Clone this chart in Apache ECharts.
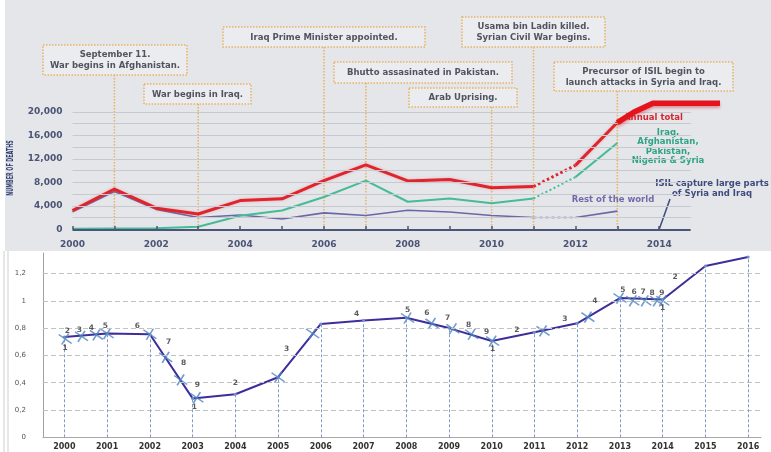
<!DOCTYPE html>
<html>
<head>
<meta charset="utf-8">
<title>Deaths from terrorism / index</title>
<script src="https://cdn.jsdelivr.net/npm/echarts@6/dist/echarts.min.js"></script>
<style>
  html, body { margin: 0; padding: 0; background: #fff; }
  #chart { width: 771px; height: 452px; }
</style>
</head>
<body>
<div id="chart"></div>
<script>
// ---- top chart: number of deaths ----
const years = [2000, 2001, 2002, 2003, 2004, 2005, 2006, 2007, 2008, 2009, 2010, 2011, 2012, 2013]
const annualTotal = [3200, 6850, 3600, 2600, 4900, 5200, 8300, 11000, 8250, 8500, 7100, 7300, 10900, 18200]
const iraqGroup = [100, 150, 200, 450, 2300, 3200, 5500, 8300, 4700, 5250, 4450, 5250, 8900, 14700]
const restOfWorld = [3000, 6450, 3400, 2000, 2450, 1750, 2800, 2350, 3250, 2950, 2350, 2000, 2000, 3100]
// thick red stroke after 2013
const projYears = [2013, 2013.4, 2013.85, 2015.45]
const projTotal = [18200, 20000, 21500, 21500]
const dottedFrom = 11 // 2011 -> 2012 drawn dotted

const axisYears = [2000, 2001, 2002, 2003, 2004, 2005, 2006, 2007, 2008, 2009, 2010, 2011, 2012, 2013, 2014]
const axisEnd = 2014.75
const deathTicks = [2000, 4000, 6000, 8000, 10000, 12000, 14000, 16000, 18000, 20000]

const eventYears = [2001, 2003, 2006, 2007, 2010, 2011, 2013]
const eventTexts = [
  'September 11.\nWar begins in Afghanistan.',
  'War begins in Iraq.',
  'Iraq Prime Minister appointed.',
  'Bhutto assasinated in Pakistan.',
  'Arab Uprising.',
  'Usama bin Ladin killed.\nSyrian Civil War begins.',
  'Precursor of ISIL begin to\nlaunch attacks in Syria and Iraq.'
]
const isilYear = 2014

// ---- bottom chart ----
const idxYears = [2000, 2001, 2002, 2003, 2004, 2005, 2006, 2007, 2008, 2009, 2010, 2011, 2012, 2013, 2014, 2015, 2016]
const idxValues = [0.735, 0.76, 0.755, 0.285, 0.315, 0.44, 0.83, 0.855, 0.875, 0.8, 0.705, 0.77, 0.835, 1.02, 1.01, 1.255, 1.32]
const idxTicks = [0.2, 0.4, 0.6, 0.8, 1, 1.2]

// wave count markers on the line
const crossYears = [2000.02, 2000.4, 2000.75, 2001, 2002, 2002.37, 2002.72, 2003.1, 2005, 2005.81, 2008.03, 2008.6, 2009.09, 2009.53, 2010.02, 2011.2, 2012.25, 2013, 2013.3, 2013.58, 2013.86, 2014]
const crossValues = [0.72, 0.74, 0.75, 0.76, 0.755, 0.585, 0.42, 0.29, 0.44, 0.76, 0.874, 0.835, 0.795, 0.755, 0.705, 0.78, 0.88, 1.02, 1.0, 1.0, 1.0, 1.0]
const waveYears = [2000.02, 2000.07, 2000.35, 2000.63, 2000.96, 2001.71, 2002.44, 2002.79, 2003.11, 2003.04, 2004, 2005.2, 2006.84, 2008.03, 2008.48, 2008.97, 2009.46, 2009.88, 2010.02, 2010.59, 2011.71, 2012.41, 2013.07, 2013.33, 2013.54, 2013.75, 2013.98, 2014, 2014.29]
const waveValues = [0.655, 0.78, 0.786, 0.8, 0.815, 0.815, 0.7, 0.545, 0.385, 0.222, 0.4, 0.65, 0.905, 0.935, 0.91, 0.87, 0.823, 0.772, 0.648, 0.786, 0.867, 0.999, 1.08, 1.065, 1.065, 1.057, 1.057, 0.948, 1.175]
const waveTexts = ['1', '2', '3', '4', '5', '6', '7', '8', '9', '1', '2', '3', '4', '5', '6', '7', '8', '9', '1', '2', '3', '4', '5', '6', '7', '8', '9', '1', '2']

// layout of the note boxes [x, y, w, h], same order as eventYears
const boxes = [
  [43, 45, 144, 30],
  [144, 84, 107, 20],
  [223, 27, 202, 20],
  [334, 62, 178, 21],
  [409, 88, 108, 19],
  [462, 17, 143, 30],
  [554, 62, 179, 29]
]

const FONT = '"DejaVu Sans"'
const ORANGE = '#e9b263'
const NAVY = '#4b5579'

function pairs (xs, ys, from, to) {
  return xs.slice(from, to + 1).map((x, i) => [x, ys[from + i]])
}

function topLine (data, color, width, type, z, extra) {
  return Object.assign({
    type: 'line',
    xAxisIndex: 0,
    yAxisIndex: 0,
    data: data,
    symbol: 'none',
    silent: true,
    z: z,
    lineStyle: { color: color, width: width, type: type }
  }, extra || {})
}

const last = years.length - 1
const redGlow = { shadowBlur: 3, shadowColor: 'rgba(230,50,60,0.3)' }

const chart = echarts.init(document.getElementById('chart'))
chart.setOption({
  animation: false,
  backgroundColor: '#ffffff',
  grid: [
    { left: 72.5, right: 51, top: 112, bottom: 222.7, outerBoundsMode: 'none' },
    { left: 43, right: 10, top: 253, bottom: 14.7, outerBoundsMode: 'none' }
  ],
  xAxis: [
    {
      gridIndex: 0,
      type: 'value',
      min: 2000,
      max: 2015.45,
      interval: 1,
      splitLine: { show: false },
      axisLine: { show: false },
      axisTick: { show: false },
      axisLabel: {
        margin: 11,
        color: '#4b5474',
        fontFamily: FONT,
        fontWeight: 'bold',
        fontSize: 9,
        formatter: v => (v % 2 === 0 && v <= 2014 ? String(v) : '')
      }
    },
    {
      gridIndex: 1,
      type: 'value',
      min: 1999.5,
      max: 2016.3,
      splitNumber: 17,
      splitLine: { show: false },
      axisLine: { show: true, lineStyle: { color: '#a8a8a8', width: 1 } },
      axisTick: { show: false },
      axisLabel: {
        margin: 6,
        showMinLabel: false,
        showMaxLabel: false,
        color: '#333',
        fontFamily: FONT,
        fontWeight: 'bold',
        fontSize: 8,
        formatter: v => (Number.isInteger(v) ? String(v) : '')
      }
    }
  ],
  yAxis: [
    {
      gridIndex: 0,
      type: 'value',
      min: 0,
      max: 20000,
      interval: 2000,
      axisLine: { show: false },
      axisTick: { show: false },
      splitLine: { show: false },
      axisLabel: {
        margin: 10,
        color: '#4b5474',
        fontFamily: FONT,
        fontWeight: 'bold',
        fontSize: 9,
        formatter: v => (v % 4000 === 0 ? v.toLocaleString('en-US') : '')
      }
    },
    {
      gridIndex: 1,
      type: 'value',
      min: 0,
      max: 1.35,
      interval: 0.2,
      axisLine: { show: true, lineStyle: { color: '#a0a0a0', width: 1 } },
      axisTick: { show: false },
      splitLine: { show: false },
      axisLabel: {
        margin: 17,
        showMaxLabel: false,
        color: '#555',
        fontFamily: FONT,
        fontSize: 7,
        formatter: v => String(Math.round(v * 10) / 10).replace('.', ',')
      }
    }
  ],
  series: [
    // top: grid lines, base line and year ticks
    {
      type: 'line', xAxisIndex: 0, yAxisIndex: 0, data: [], z: 1, silent: true,
      markLine: {
        silent: true, symbol: 'none', label: { show: false },
        lineStyle: { color: '#c6c9d0', type: 'solid', width: 1 },
        data: deathTicks.map(v => [{ coord: [axisYears[0], v] }, { coord: [axisEnd, v] }])
      }
    },
    {
      type: 'line', xAxisIndex: 0, yAxisIndex: 0, data: [], z: 6, silent: true,
      markLine: {
        silent: true, symbol: 'none', label: { show: false },
        lineStyle: { color: NAVY, type: 'solid', width: 1.5 },
        data: [[{ coord: [axisYears[0], 0], lineStyle: { width: 2 } }, { coord: [axisEnd, 0] }]]
          .concat(axisYears.map(y => [{ coord: [y, 0] }, { coord: [y, 550] }]))
      }
    },
    // rest of the world
    topLine(pairs(years, restOfWorld, 0, dottedFrom), '#6a67a6', 1.6, 'solid', 2),
    topLine(pairs(years, restOfWorld, dottedFrom, dottedFrom + 1), '#6a67a6', 1.6, [3, 3], 2),
    topLine(pairs(years, restOfWorld, dottedFrom + 1, last), '#6a67a6', 1.6, 'solid', 2),
    // iraq, afghanistan, pakistan, nigeria & syria
    topLine(pairs(years, iraqGroup, 0, dottedFrom), '#45bb96', 2, 'solid', 3),
    topLine(pairs(years, iraqGroup, dottedFrom, dottedFrom + 1), '#45bb96', 2, [2, 2.5], 3),
    topLine(pairs(years, iraqGroup, dottedFrom + 1, last), '#45bb96', 2, 'solid', 3),
    // annual total
    topLine(pairs(years, annualTotal, 0, dottedFrom), '#e0242c', 3, 'solid', 4, { lineStyle: Object.assign({ color: '#e0242c', width: 3 }, redGlow) }),
    topLine(pairs(years, annualTotal, dottedFrom, dottedFrom + 1), '#e0242c', 3, [2.5, 2.5], 4),
    topLine(pairs(years, annualTotal, dottedFrom + 1, last), '#e0242c', 3, 'solid', 4, { lineStyle: Object.assign({ color: '#e0242c', width: 3 }, redGlow) }),
    topLine(pairs(projYears, projTotal, 0, projYears.length - 1), '#e3141c', 5.5, 'solid', 5, {
      clip: false,
      lineStyle: { color: '#e3141c', width: 5.5, join: 'round', shadowBlur: 3, shadowColor: 'rgba(220,20,30,0.4)', shadowOffsetY: 2 }
    }),

    // bottom: dashed grid lines
    {
      type: 'line',
      xAxisIndex: 1,
      yAxisIndex: 1,
      data: [],
      z: 1,
      silent: true,
      markLine: {
        silent: true,
        symbol: 'none',
        label: { show: false },
        lineStyle: { color: '#c2c2c2', type: [5, 3], width: 1 },
        data: idxTicks.map(v => ({ yAxis: v }))
      }
    },
    // bottom: main line with drop lines
    {
      type: 'line',
      xAxisIndex: 1,
      yAxisIndex: 1,
      data: pairs(idxYears, idxValues, 0, idxYears.length - 1),
      symbol: 'circle',
      symbolSize: 3,
      silent: true,
      z: 3,
      itemStyle: { color: '#6b8fca' },
      lineStyle: { color: '#3d2e9c', width: 2 },
      markLine: {
        silent: true,
        symbol: 'none',
        label: { show: false },
        lineStyle: { color: '#7e9ccb', type: [3, 2], width: 1 },
        data: idxYears.map((y, i) => [{ coord: [y, 0] }, { coord: [y, idxValues[i]] }])
      }
    },
    // bottom: wave crosses
    {
      type: 'scatter',
      xAxisIndex: 1,
      yAxisIndex: 1,
      silent: true,
      z: 4,
      data: pairs(crossYears, crossValues, 0, crossYears.length - 1),
      symbol: 'path://M0,1L13,10M3,11L10,0',
      symbolSize: [13, 11],
      itemStyle: { color: 'transparent', borderColor: '#4f86c0', borderWidth: 1.6 }
    },
    // bottom: wave count digits
    {
      type: 'scatter',
      xAxisIndex: 1,
      yAxisIndex: 1,
      silent: true,
      z: 5,
      data: waveYears.map((y, i) => [y, waveValues[i], waveTexts[i]]),
      symbolSize: 1,
      itemStyle: { color: 'transparent' },
      label: {
        show: true,
        position: 'inside',
        formatter: p => p.value[2],
        color: '#333',
        fontFamily: FONT,
        fontWeight: 'bold',
        fontSize: 7.5
      }
    }
  ]
})

// annotations, placed with the chart's own scale
const toPx = v => chart.convertToPixel({ xAxisIndex: 0, yAxisIndex: 0 }, v)
const axisY = toPx([2000, 0])[1]
const noteFont = 'bold 8.5px ' + FONT
const graphic = [
  { type: 'rect', z: -10, silent: true, shape: { x: 5, y: 0, width: 766, height: 251 }, style: { fill: '#e4e6ea' } },
  { type: 'line', silent: true, shape: { x1: 4, y1: 251, x2: 4, y2: 452 }, style: { stroke: '#cfcfcf', lineWidth: 1 } },
  { type: 'line', silent: true, shape: { x1: 8, y1: 251, x2: 8, y2: 452 }, style: { stroke: '#cfcfcf', lineWidth: 1 } },
  {
    type: 'text', silent: true, x: 11, y: 168, rotation: Math.PI / 2, scaleX: 0.6,
    style: { text: 'NUMBER OF DEATHS', font: 'bold 8px ' + FONT, fill: '#2f3d70', align: 'center', verticalAlign: 'middle' }
  }
]

eventYears.forEach((yr, i) => {
  const b = boxes[i]
  const px = toPx([yr, 0])[0]
  graphic.push({
    type: 'line', silent: true,
    shape: { x1: px, y1: b[1] + b[3], x2: px, y2: axisY },
    style: { stroke: ORANGE, lineWidth: 1.5, lineDash: [1.5, 1.5] }
  })
  graphic.push({
    type: 'rect', silent: true,
    shape: { x: b[0], y: b[1], width: b[2], height: b[3] },
    style: { fill: 'rgba(240,241,244,0.55)', stroke: ORANGE, lineWidth: 1.5, lineDash: [1.5, 1.5] }
  })
  graphic.push({
    type: 'text', silent: true, x: b[0] + b[2] / 2, y: b[1] + b[3] / 2 + 0.5,
    style: { text: eventTexts[i], font: noteFont, fill: '#51545f', align: 'center', verticalAlign: 'middle', lineHeight: 11 }
  })
})

const isilPx = toPx([isilYear, 0])
graphic.push(
  { type: 'text', silent: true, z: 3, x: 683, y: 118, style: { text: 'Annual total', font: noteFont, fill: '#d8262e', align: 'right', verticalAlign: 'middle' } },
  { type: 'text', silent: true, z: 3, x: 668, y: 147, style: { text: 'Iraq,\nAfghanistan,\nPakistan,\nNigeria & Syria', font: noteFont, fill: '#2fa486', align: 'center', verticalAlign: 'middle', lineHeight: 9.5 } },
  { type: 'text', silent: true, z: 3, x: 613, y: 200, style: { text: 'Rest of the world', font: noteFont, fill: '#6d6ba9', align: 'center', verticalAlign: 'middle' } },
  { type: 'text', silent: true, z: 3, x: 712, y: 189, style: { text: 'ISIL capture large parts\nof Syria and Iraq', font: noteFont, fill: '#3e4b7c', align: 'center', verticalAlign: 'middle', lineHeight: 10.5 } },
  { type: 'line', silent: true, z: 3, shape: { x1: 670, y1: 199, x2: isilPx[0], y2: isilPx[1] }, style: { stroke: '#3e4b7c', lineWidth: 1.5 } }
)

chart.setOption({ graphic: graphic })
</script>
</body>
</html>
